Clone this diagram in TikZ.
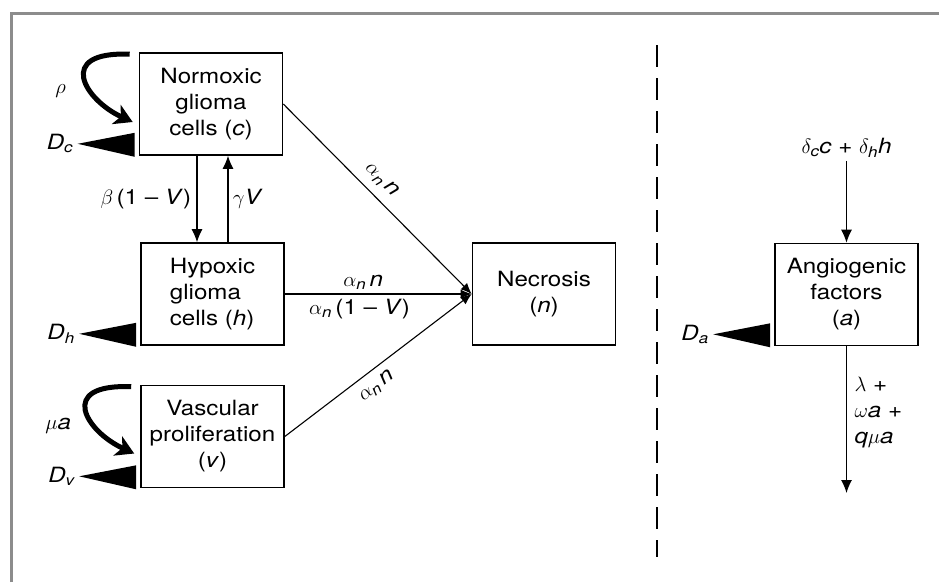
\documentclass[tikz,border=0pt]{standalone}
\usepackage{amsmath}
\usepackage{fontspec}
\setmainfont{TeX Gyre Heros}[FakeStretch=1.15]
\usetikzlibrary{arrows.meta}

\begin{document}
\begin{tikzpicture}[x=1pt, y=-1pt,
  box/.style={draw, line width=1.6pt, minimum width=143pt, minimum height=102pt,
    align=center, inner sep=0pt, font=\fontsize{21}{26}\selectfont},
  lbl/.style={font=\fontsize{21}{26}\selectfont},
  flow/.style={line width=1.1pt, -{Latex[length=13pt, width=11pt]}},
  conv/.style={line width=1.1pt, -{Latex[length=11pt, width=9pt]}},
  loopy/.style={line width=5pt, -{Stealth[length=18pt, width=21pt, inset=5pt]}}]
\useasboundingbox (0,0) rectangle (939,582);
% frame and divider
\draw[black!45, line width=3pt] (11,582) -- (11,13) -- (939,13);
\draw[line width=2.4pt, dash pattern=on 22pt off 11pt] (657,45) -- (657,557);
% compartments
\node[box] (norm) at (211,104) {Normoxic\\glioma\\cells (\textit{c})};
\node[box, align=left] (hyp) at (212.5,294) {Hypoxic\\glioma\\cells (\textit{h})};
\node[box] (vasc) at (212.5,436.5) {Vascular\\proliferation\\(\textit{v})};
\node[box] (necr) at (544,294) {Necrosis\\(\textit{n})};
\node[box] (angio) at (846.5,294.5) {Angiogenic\\factors\\(\textit{a})};
% switching between normoxic and hypoxic
\draw[flow] ([xshift=-14pt]norm.south) -- ([xshift=-14pt]norm.south |- hyp.north)
  node[midway, left=2pt, lbl] {$\beta$\,(1 – \textit{V})};
\draw[flow] ([xshift=17pt]norm.south |- hyp.north) -- ([xshift=17pt]norm.south)
  node[midway, right=1pt, lbl] {$\gamma$\textit{V}};
% death into necrosis
\draw[conv] (norm.east) -- (necr.west)
  node[pos=0.46, sloped, above=5pt, lbl] {$\alpha_{\textit{n}}\,$\textit{n}};
\draw[conv] (hyp.east) -- (necr.west)
  node[pos=0.42, above=1pt, lbl] {$\alpha_{\textit{n}}\,$\textit{n}}
  node[pos=0.40, below=1pt, lbl] {$\alpha_{\textit{n}}$\,(1 – \textit{V})};
\draw[conv] (vasc.east) -- (necr.west)
  node[pos=0.44, sloped, below=5pt, lbl] {$\alpha_{\textit{n}}\,$\textit{n}};
% proliferation loops
\draw[loopy] ([shift={(-9,2)}]norm.north west) .. controls +(-75,-3) and +(-48,-22) .. ([shift={(-6,18)}]norm.west);
\node[lbl] (rho) at ([shift={(-78,-13)}]norm.west) {$\rho$};
\draw[loopy] ([shift={(-9,2)}]vasc.north west) .. controls +(-75,-3) and +(-48,-22) .. ([shift={(-6,17)}]vasc.west);
\node[lbl] (mua) at ([shift={(-82,-11)}]vasc.west) {$\mu$\textit{a}};
% diffusion wedges
\fill ([shift={(-4,1)}]norm.south west) -- ++(0,-24) -- ++(-57,11) coordinate (dc) -- cycle;
\node[lbl, left=1pt] (Dc) at (dc) {\textit{D}$_{\textit{c}}$};
\fill ([shift={(-4,1)}]hyp.south west) -- ++(0,-24) -- ++(-57,11) coordinate (dh) -- cycle;
\node[lbl, left=1pt] (Dh) at (dh) {\textit{D}$_{\textit{h}}$};
\fill ([shift={(-4,1)}]vasc.south west) -- ++(0,-24) -- ++(-57,11) coordinate (dv) -- cycle;
\node[lbl, left=1pt] (Dv) at (dv) {\textit{D}$_{\textit{v}}$};
\fill ([shift={(-4,1)}]angio.south west) -- ++(0,-24) -- ++(-57,11) coordinate (da) -- cycle;
\node[lbl, left=1pt] (Da) at (da) {\textit{D}$_{\textit{a}}$};
% angiogenic factors
\node[lbl] (prod) at (846.5,148) {$\delta_{\textit{c}}$\textit{c} + $\delta_{\textit{h}}$\textit{h}};
\draw[flow] (prod.south) -- (angio.north);
\coordinate (sink) at (846.5,493);
\draw[flow] (angio.south) -- (sink);
\node[lbl, anchor=west, align=left] (decay) at (851,413) {$\lambda$ +\\$\omega$\textit{a} +\\\textit{q}$\mu$\textit{a}};
\end{tikzpicture}
\end{document}
